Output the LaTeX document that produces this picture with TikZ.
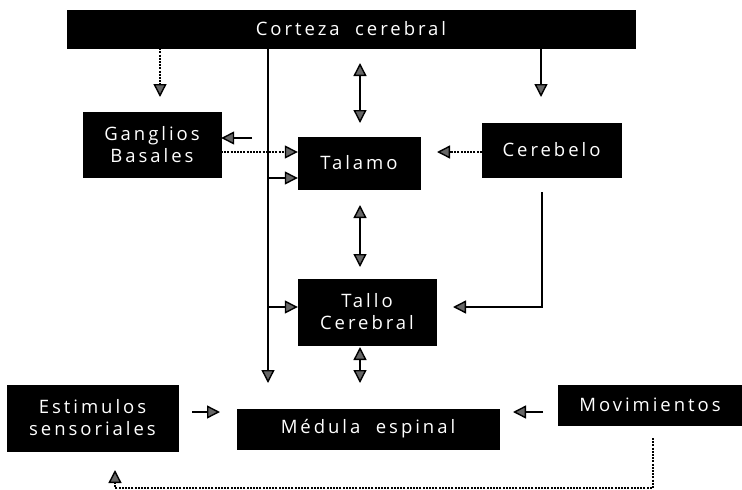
\documentclass[tikz,border=0pt]{standalone}
\usepackage{fontspec}
\setmainfont{Open Sans}[LetterSpace=16, WordSpace=2]
\usetikzlibrary{arrows.meta, positioning, calc}
\colorlet{Cbox}{black}
\colorlet{Ctip}{black!60}
\tikzset{
  blockbox/.style={fill=Cbox, draw=Cbox, text=white, align=center,
    inner sep=0pt, font=\fontsize{18.5}{22}\selectfont},
  tip/.tip={Triangle[length=13pt, width=13pt, fill=Ctip, line width=1.4pt]},
  arr/.style={-tip, line width=1.5pt},
  dblarr/.style={tip-tip, line width=1.5pt},
  dotarr/.style={arr, line width=1.8pt, dash pattern=on 2pt off 1.2pt},
}

\begin{document}
\begin{tikzpicture}[x=1pt, y=-1pt]
\useasboundingbox (0,0) rectangle (742,490);

%%==========================================================================
%% BLOCKS
%%==========================================================================

\node[blockbox, minimum width=568pt, minimum height=38pt] (corteza) at (351,29) {Corteza cerebral};

\node[blockbox, minimum width=138pt, minimum height=65pt] (ganglios) at (152,144.5) {Ganglios\\Basales};
\node[blockbox, minimum width=122pt, minimum height=52pt] (talamo) at (359,163) {Talamo};
\node[blockbox, minimum width=139pt, minimum height=54pt] (cerebelo) at (551.5,150) {Cerebelo};

\node[blockbox, minimum width=138pt, minimum height=66pt] (tallo) at (367,312) {Tallo\\Cerebral};

\node[blockbox, minimum width=171pt, minimum height=66pt] (estimulos) at (92.5,418) {Estimulos\\sensoriales};
\node[blockbox, minimum width=262pt, minimum height=40pt] (medula) at (368,429) {Médula espinal};
\node[blockbox, minimum width=184pt, minimum height=40pt] (movimientos) at (650,405) {Movimientos};

%%==========================================================================
%% FREE ENDS
%%==========================================================================

\coordinate (gbtip) at (160,97);
\coordinate (cbtip) at (541,97);
\coordinate (spine) at (268,383);
\coordinate (gbsrc) at (252,138);
\coordinate (gtsrc) at (221,152);
\coordinate (ctop) at (360,63);
\coordinate (cbot) at (360,123);
\coordinate (cbtal) at (437,152);
\coordinate (ttop) at (360,205);
\coordinate (tbot) at (360,267);
\coordinate (cbsrc) at (542,192);
\coordinate (cbbend) at (542,307);
\coordinate (cbtallo) at (453,307);
\coordinate (vtal) at (268,178);
\coordinate (vtallo) at (268,307);
\coordinate (mtop) at (360,347);
\coordinate (mbot) at (360,383);
\coordinate (essrc) at (192,412);
\coordinate (estip) at (220,412);
\coordinate (mvsrc) at (543,412);
\coordinate (mvtip) at (513,412);
\coordinate (fbsrc) at (653,438);
\coordinate (fbright) at (653,488);
\coordinate (fbleft) at (115,488);
\coordinate (fbtip) at (115,470);

%%==========================================================================
%% ARROWS
%%==========================================================================

\draw[dotarr] (corteza.south -| gbtip) -- (gbtip);
\draw[arr] (corteza.south -| cbtip) -- (cbtip);
\draw[arr] (corteza.south -| spine) -- (spine);
\draw[dblarr] (ctop) -- (cbot);

\draw[arr] (gbsrc) -- (gbsrc -| ganglios.east);
\draw[dotarr] (gtsrc) -- (gtsrc -| talamo.west);
\draw[arr] (vtal) -- (vtal -| talamo.west);
\draw[dotarr] (cbtal -| cerebelo.west) -- (cbtal);

\draw[dblarr] (ttop) -- (tbot);
\draw[arr] (cbsrc) -- (cbbend) -- (cbtallo);
\draw[arr] (vtallo) -- (vtallo -| tallo.west);

\draw[dblarr] (mtop) -- (mbot);
\draw[arr] (essrc) -- (estip);
\draw[arr] (mvsrc) -- (mvtip);
\draw[dotarr] (fbsrc) -- (fbright) -- (fbleft) -- (fbtip);

\end{tikzpicture}
\end{document}
